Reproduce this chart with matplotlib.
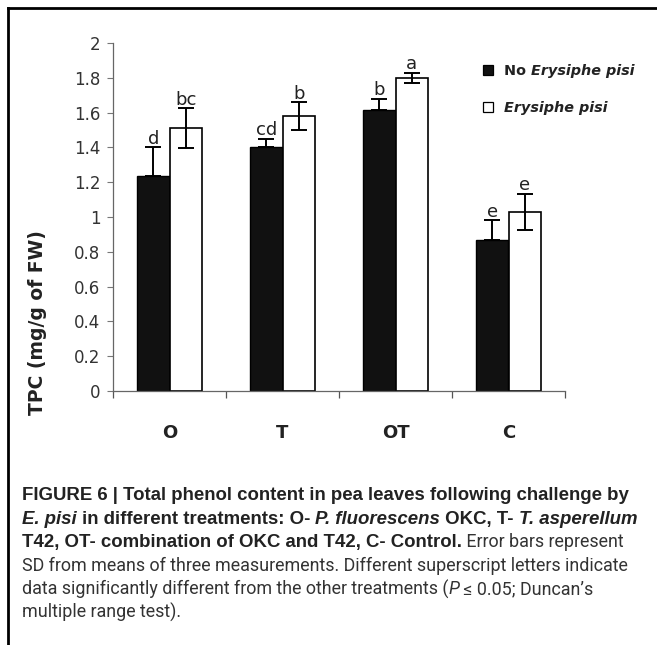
import numpy as np
import matplotlib
matplotlib.use("Agg")
from matplotlib import pyplot as plt, patches
from matplotlib.lines import Line2D

# data
groups = ["O", "T", "OT", "C"]
no_pisi = [1.235, 1.40, 1.615, 0.87]
no_pisi_sd = [0.165, 0.05, 0.065, 0.11]
with_pisi = [1.51, 1.58, 1.80, 1.03]
with_pisi_sd = [0.115, 0.08, 0.03, 0.105]
letters_no = ["d", "cd", "b", "e"]
letters_with = ["bc", "b", "a", "e"]
y_ticks = [0, 0.2, 0.4, 0.6, 0.8, 1.0, 1.2, 1.4, 1.6, 1.8, 2.0]
y_ticklabels = ["0", "0.2", "0.4", "0.6", "0.8", "1", "1.2", "1.4", "1.6", "1.8", "2"]

W, H = 657, 645
fig = plt.figure(figsize=(W / 100, H / 100), dpi=100)
rend = fig.canvas.get_renderer()

chart_font = "DejaVu Sans"
ink = "#222222"

# axes placed in pixels: x 113..565, y 43..391 (from top)
ax = fig.add_axes([113 / W, 1 - 391 / H, 452 / W, 348 / H])

x = np.arange(len(groups))
w = 0.288
ekw = dict(elinewidth=1.4, capthick=1.4, ecolor="black")
# black bars only show the upper half of the error bar
ax.bar(x - w / 2, no_pisi, w, yerr=[np.zeros(len(groups)), no_pisi_sd], color="#111111",
       edgecolor="black", linewidth=1, capsize=6, error_kw=ekw)
ax.bar(x + w / 2, with_pisi, w, yerr=with_pisi_sd, color="white", edgecolor="black",
       linewidth=1.2, capsize=6, error_kw=ekw)

for i in range(len(groups)):
    ax.text(x[i] - w / 2, no_pisi[i] + no_pisi_sd[i] + 0.02, letters_no[i],
            ha="center", va="baseline", fontsize=13, family=chart_font, color=ink)
    ax.text(x[i] + w / 2, with_pisi[i] + with_pisi_sd[i] + 0.02, letters_with[i],
            ha="center", va="baseline", fontsize=13, family=chart_font, color=ink)

ax.set_xlim(-0.5, len(groups) - 0.5)
ax.set_ylim(0, 2)
ax.set_yticks(y_ticks)
ax.set_yticklabels(y_ticklabels, fontsize=12, family=chart_font, color="#333333")
ax.set_xticks(np.arange(len(groups) + 1) - 0.5)
ax.set_xticklabels([])
ax.set_xticks(x, minor=True)
ax.set_xticklabels(groups, minor=True, fontsize=13, fontweight="bold", family=chart_font, color=ink)
ax.tick_params(axis="x", which="major", direction="out", length=5, width=0.9, color="#555555")
ax.tick_params(axis="x", which="minor", length=0, pad=24)
ax.tick_params(axis="y", direction="out", length=4, width=0.8, color="#777777", pad=5)
for s in ["top", "right"]:
    ax.spines[s].set_visible(False)
for s in ["left", "bottom"]:
    ax.spines[s].set_color("#666666")
    ax.spines[s].set_linewidth(0.9)

ax.set_ylabel("TPC (mg/g of FW)", fontsize=13.5, fontweight="bold", family=chart_font, color=ink)
ax.yaxis.set_label_coords(47 / W, 0.5, transform=fig.transFigure)


def width_of(s, size, weight, style, family):
    # bars around the text so that spaces at the ends count
    t1 = fig.text(0, 0, "|" + s + "|", fontsize=size, fontweight=weight, fontstyle=style, family=family)
    t2 = fig.text(0, 0, "||", fontsize=size, fontweight=weight, fontstyle=style, family=family)
    wd = t1.get_window_extent(rend).width - t2.get_window_extent(rend).width
    t1.remove()
    t2.remove()
    return wd


def draw_runs(px, py, runs, size, family, color="black"):
    for s, weight, style, col in runs:
        fig.text(px / W, 1 - py / H, s, fontsize=size, fontweight=weight, fontstyle=style,
                 family=family, color=col or color, va="baseline", ha="left")
        px += width_of(s, size, weight, style, family)
    return px


def fit_size(runs, target, family, base=10.0):
    tot = sum(width_of(s, base, wt, st, family) for s, wt, st, _ in runs)
    return base * target / tot


# legend
leg = [
    [("No ", "bold", "normal", ink), ("Erysiphe pisi", "bold", "italic", ink)],
    [("Erysiphe pisi", "bold", "italic", ink)],
]
leg_size = fit_size(leg[0], 131, chart_font)
for k, (yy, face) in enumerate([(70, "#111111"), (107, "white")]):
    fig.patches.append(patches.Rectangle((483 / W, 1 - (yy + 5) / H), 10 / W, 10 / H,
                                         transform=fig.transFigure, facecolor=face,
                                         edgecolor="black", linewidth=0.9))
    draw_runs(504, yy + 5, leg[k], leg_size, chart_font)

# frame lines
fig.add_artist(Line2D([8 / W, 1], [1 - 8 / H, 1 - 8 / H], color="black", lw=2, transform=fig.transFigure))
fig.add_artist(Line2D([8 / W, 8 / W], [1 - 8 / H, 0], color="black", lw=2, transform=fig.transFigure))

# caption
bold_font = "Liberation Sans"
light_font = "Roboto"
dark = "#222222"
grey = "#333333"
line1 = [("FIGURE 6 | Total phenol content in pea leaves following challenge by", "bold", "normal", dark)]
line4 = [("SD from means of three measurements. Different superscript letters indicate", "normal", "normal", grey)]
bsize = fit_size(line1, 608, bold_font)
lsize = fit_size(line4, 610, light_font)

base = 500
pitch = 23.6
draw_runs(22, base, line1, bsize, bold_font)
draw_runs(22, base + pitch, [("E. pisi", "bold", "italic", dark),
                             (" in different treatments: O- ", "bold", "normal", dark),
                             ("P. fluorescens", "bold", "italic", dark),
                             (" OKC, T- ", "bold", "normal", dark),
                             ("T. asperellum", "bold", "italic", dark)], bsize, bold_font)
px = draw_runs(22, base + 2 * pitch, [("T42, OT- combination of OKC and T42, C- Control.", "bold", "normal", dark)],
               bsize, bold_font)
draw_runs(px, base + 2 * pitch, [(" Error bars represent", "normal", "normal", grey)], lsize, light_font)
draw_runs(22, base + 3 * pitch, line4, lsize, light_font)
draw_runs(22, base + 4 * pitch, [("data significantly different from the other treatments (", "normal", "normal", grey),
                                 ("P", "normal", "italic", grey),
                                 (" \u2264 0.05; Duncan\u2019s", "normal", "normal", grey)], lsize, light_font)
draw_runs(22, base + 5 * pitch, [("multiple range test).", "normal", "normal", grey)], lsize, light_font)

fig.savefig("out.png", dpi=100)
